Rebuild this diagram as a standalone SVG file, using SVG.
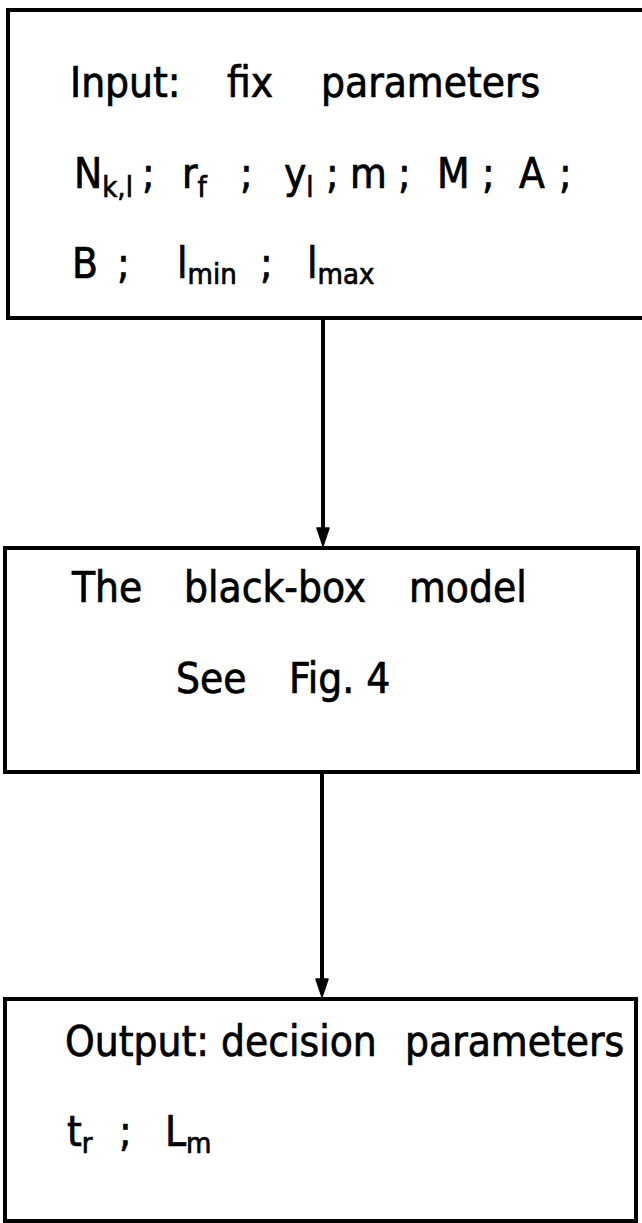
<svg xmlns="http://www.w3.org/2000/svg" width="642" height="1223" viewBox="0 0 642 1223">
<style>
.box{fill:#fff;stroke:#000;stroke-width:4}
.t{font-family:"DejaVu Sans Condensed","DejaVu Sans","Liberation Sans",sans-serif;font-stretch:condensed;font-size:42px;fill:#000;stroke:#000;stroke-width:0.7}
.s{font-size:29px}
.ln{stroke:#000;stroke-width:4;fill:none}
.ah{fill:#000;stroke:#000;stroke-width:1.5;stroke-linejoin:round}
</style>
<rect width="642" height="1223" fill="#fff"/>
<g id="node-input">
<rect class="box" x="8" y="10" width="640" height="308"/>
<text class="t" x="70" y="97">Input:</text>
<text class="t" x="227" y="97">fix</text>
<text class="t" x="321" y="97">parameters</text>
<text class="t" x="74" y="188">N<tspan class="s" dy="9">k,l</tspan></text>
<text class="t" x="142" y="188">;</text>
<text class="t" x="182" y="188">r<tspan class="s" dy="9">f</tspan></text>
<text class="t" x="240" y="188">;</text>
<text class="t" x="284" y="188">y<tspan class="s" dy="9">l</tspan></text>
<text class="t" x="326" y="188">;</text>
<text class="t" x="350" y="188">m</text>
<text class="t" x="398" y="188">;</text>
<text class="t" x="437" y="188">M</text>
<text class="t" x="482" y="188">;</text>
<text class="t" x="519" y="188">A</text>
<text class="t" x="559" y="188">;</text>
<text class="t" x="72" y="278">B</text>
<text class="t" x="117" y="278">;</text>
<text class="t" x="177" y="278">l<tspan class="s" dy="6">min</tspan></text>
<text class="t" x="260" y="278">;</text>
<text class="t" x="307" y="278">l<tspan class="s" dy="6">max</tspan></text>
</g>
<g id="node-model">
<rect class="box" x="5" y="548" width="633" height="224"/>
<text class="t" x="72" y="602">The</text>
<text class="t" x="184" y="602">black-box</text>
<text class="t" x="409" y="602">model</text>
<text class="t" x="176" y="693">See</text>
<text class="t" x="289" y="693">Fig. 4</text>
</g>
<g id="node-output">
<rect class="box" x="5" y="999" width="631" height="222"/>
<text class="t" x="65" y="1056">Output:</text>
<text class="t" x="221" y="1056">decision</text>
<text class="t" x="405" y="1056">parameters</text>
<text class="t" x="67" y="1146">t<tspan class="s" dy="7">r</tspan></text>
<text class="t" x="119" y="1146">;</text>
<text class="t" x="165" y="1146">L<tspan class="s" dy="7">m</tspan></text>
</g>
<g id="connectors">
<line class="ln" x1="323" y1="320" x2="323" y2="532"/>
<polygon class="ah" points="317,528 329,528 323,546"/>
<line class="ln" x1="322" y1="773" x2="322" y2="983"/>
<polygon class="ah" points="316,979 328,979 322,997"/>
</g>
</svg>
